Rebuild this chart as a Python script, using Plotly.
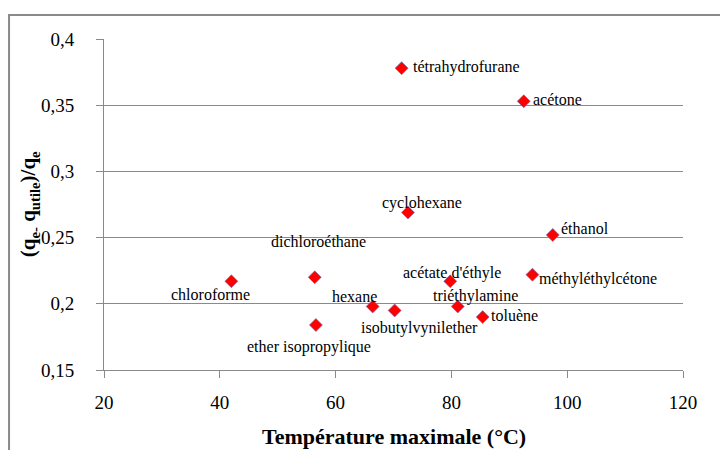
import plotly.graph_objects as go

# solvants : température maximale (°C) et (qe - qutile)/qe
solvants = ["tétrahydrofurane", "acétone", "cyclohexane", "éthanol", "dichloroéthane",
            "chloroforme", "acétate d'éthyle", "méthyléthylcétone", "hexane",
            "triéthylamine", "isobutylvynilether", "toluène", "ether isopropylique"]
temperature = [71.4, 92.5, 72.5, 97.5, 56.4, 42.0, 79.8, 94.0, 66.4, 81.1, 70.2, 85.4, 56.6]
rapport = [0.378, 0.353, 0.269, 0.252, 0.220, 0.217, 0.217, 0.222, 0.198, 0.198, 0.195, 0.190, 0.184]

# placement des étiquettes (ancre, décalage x, décalage y en px)
placement = [("left", 9, 1), ("left", 7, 2), ("center", 14, 9), ("left", 6, 6),
             ("center", 4, 36), ("center", -21, -13), ("center", 2, 8),
             ("left", 5, -4), ("center", -18, 10), ("center", 18, 10),
             ("center", 25, -18), ("left", 6, 2), ("center", -7, -22)]

police = "Liberation Serif"
gris = "#8a8a8a"

fig = go.Figure(go.Scatter(
    x=temperature,
    y=rapport,
    mode="markers",
    marker=dict(symbol="diamond", size=10, color="#ff0000",
                line=dict(color="#6f6fb8", width=0.6)),
    hoverinfo="x+y",
))

for nom, t, r, (ancre, dx, dy) in zip(solvants, temperature, rapport, placement):
    fig.add_annotation(x=t, y=r, text=nom, showarrow=False,
                       xanchor=ancre, yanchor="middle", xshift=dx, yshift=dy,
                       font=dict(family=police, size=16, color="black"))

fig.add_annotation(xref="paper", yref="paper", x=0.5, y=-0.2,
                   text="<b>Température maximale (°C)</b>", showarrow=False,
                   xanchor="center", yanchor="middle",
                   font=dict(family=police, size=22, color="black"))
fig.add_annotation(xref="paper", yref="paper", x=-0.13, y=0.5, textangle=-90,
                   text="<b>(q<sub>e-</sub> q<sub>utile</sub>)/q<sub>e</sub></b>",
                   showarrow=False, xanchor="center", yanchor="middle",
                   font=dict(family=police, size=21, color="black"))

# cadre extérieur du graphique (coupé à droite et en bas)
fig.add_shape(type="rect", xref="paper", yref="paper", x0=-0.164, x1=1.3, y0=-0.5, y1=1.0725,
              line=dict(color=gris, width=2))

fig.update_layout(
    width=720, height=450,
    margin=dict(l=104, r=37, t=39, b=80),
    plot_bgcolor="white",
    paper_bgcolor="white",
    separators=", ",
    showlegend=False,
    font=dict(family=police, size=19, color="black"),
    xaxis=dict(range=[20, 120], dtick=20, tick0=20, showgrid=False, zeroline=False,
               showline=True, linecolor=gris, linewidth=1, ticks="outside",
               ticklen=7, tickcolor=gris, ticklabelstandoff=8),
    yaxis=dict(range=[0.15, 0.4], dtick=0.05, tick0=0.15, showgrid=True, gridcolor=gris,
               gridwidth=1, zeroline=False, showline=True, linecolor=gris, linewidth=1,
               ticks="outside", ticklen=7, tickcolor=gris, ticklabelstandoff=18),
)

fig.write_html("out.html", post_script="document.body.style.margin='0px';",
               config={"displayModeBar": False})
